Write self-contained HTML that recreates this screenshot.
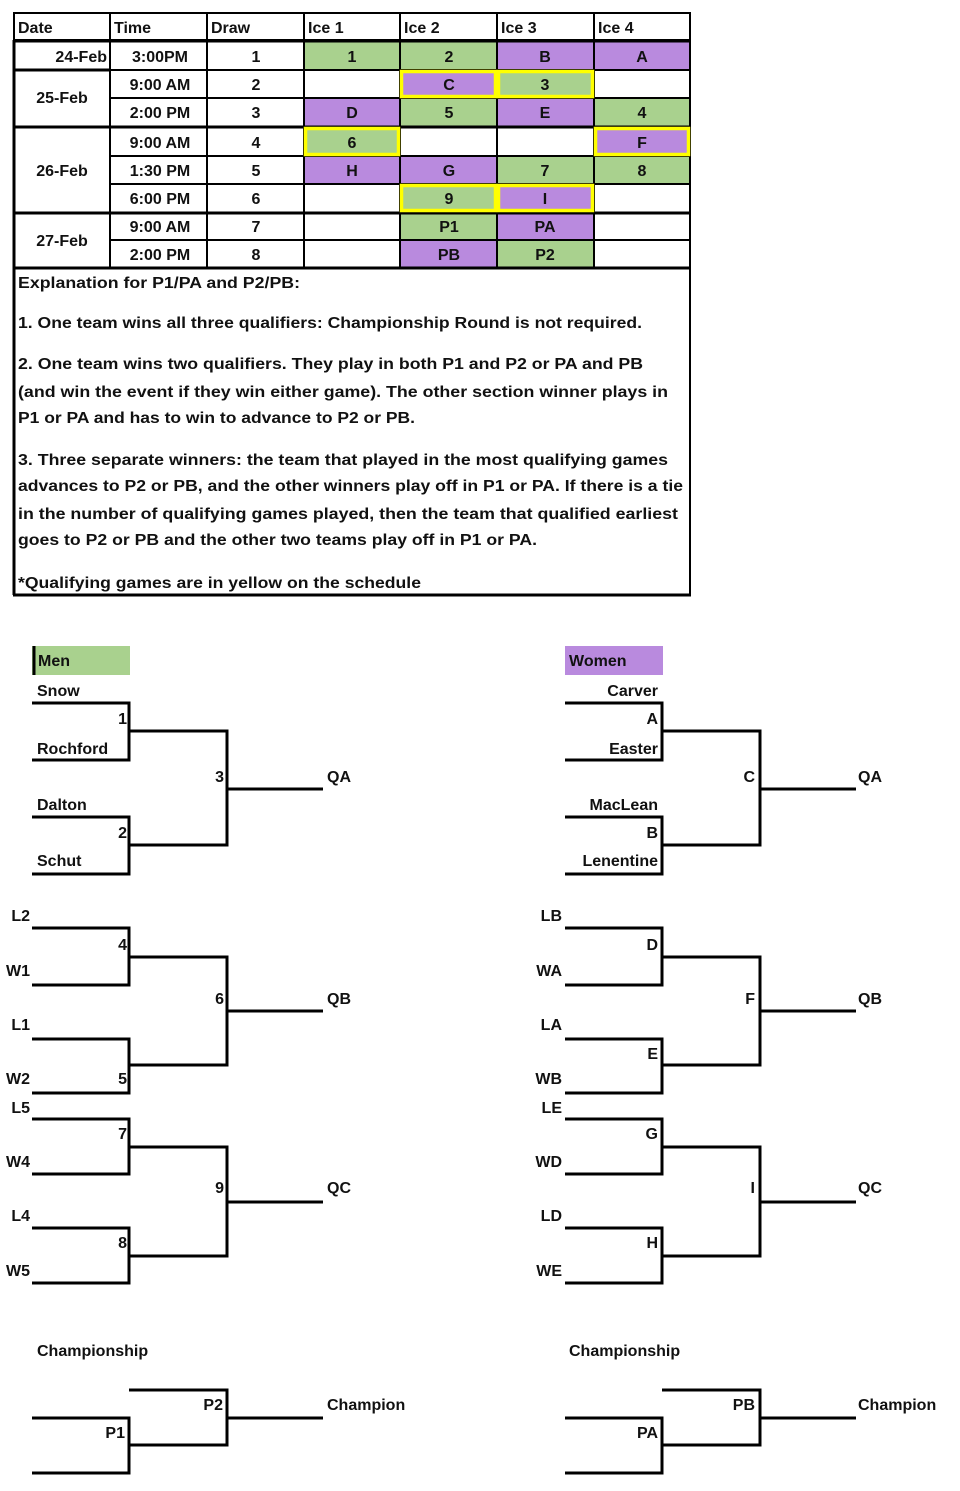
<!DOCTYPE html>
<html><head><meta charset="utf-8"><style>
html,body{margin:0;padding:0;background:#fff;}
svg{display:block;}
text{font-family:"Liberation Sans",sans-serif;font-weight:bold;fill:#111;font-size:16px;}
.n{font-weight:normal;}
</style></head><body>
<svg width="960" height="1491" viewBox="0 0 960 1491" xmlns="http://www.w3.org/2000/svg">
<g>
<rect x="304" y="42" width="96" height="28" fill="#a9d18e"/>
<rect x="400" y="42" width="97" height="28" fill="#a9d18e"/>
<rect x="497" y="42" width="97" height="28" fill="#b98ade"/>
<rect x="594" y="42" width="96" height="28" fill="#b98ade"/>
<rect x="400" y="70" width="97" height="28" fill="#b98ade"/>
<rect x="497" y="70" width="97" height="28" fill="#a9d18e"/>
<rect x="304" y="98" width="96" height="28" fill="#b98ade"/>
<rect x="400" y="98" width="97" height="28" fill="#a9d18e"/>
<rect x="497" y="98" width="97" height="28" fill="#b98ade"/>
<rect x="594" y="98" width="96" height="28" fill="#a9d18e"/>
<rect x="304" y="128" width="96" height="28" fill="#a9d18e"/>
<rect x="594" y="128" width="96" height="28" fill="#b98ade"/>
<rect x="304" y="156" width="96" height="28" fill="#b98ade"/>
<rect x="400" y="156" width="97" height="28" fill="#b98ade"/>
<rect x="497" y="156" width="97" height="28" fill="#a9d18e"/>
<rect x="594" y="156" width="96" height="28" fill="#a9d18e"/>
<rect x="400" y="184" width="97" height="28" fill="#a9d18e"/>
<rect x="497" y="184" width="97" height="28" fill="#b98ade"/>
<rect x="400" y="213" width="97" height="27" fill="#a9d18e"/>
<rect x="497" y="213" width="97" height="27" fill="#b98ade"/>
<rect x="400" y="240" width="97" height="28" fill="#b98ade"/>
<rect x="497" y="240" width="97" height="28" fill="#a9d18e"/>
</g>
<g stroke="#000" fill="none">
<rect x="14" y="13" width="676" height="27" stroke-width="2"/>
<line x1="13" y1="41" x2="691" y2="41" stroke-width="3"/>
<line x1="110" y1="70" x2="691" y2="70" stroke-width="2"/>
<line x1="13" y1="70" x2="110" y2="70" stroke-width="3"/>
<line x1="110" y1="98" x2="691" y2="98" stroke-width="2"/>
<line x1="13" y1="127" x2="691" y2="127" stroke-width="3"/>
<line x1="110" y1="156" x2="691" y2="156" stroke-width="2"/>
<line x1="110" y1="184" x2="691" y2="184" stroke-width="2"/>
<line x1="13" y1="213" x2="691" y2="213" stroke-width="3"/>
<line x1="110" y1="240" x2="691" y2="240" stroke-width="2"/>
<line x1="13" y1="268" x2="691" y2="268" stroke-width="3"/>
<line x1="110" y1="13" x2="110" y2="268" stroke-width="2"/>
<line x1="207" y1="13" x2="207" y2="268" stroke-width="2"/>
<line x1="304" y1="13" x2="304" y2="268" stroke-width="2"/>
<line x1="400" y1="13" x2="400" y2="268" stroke-width="2"/>
<line x1="497" y1="13" x2="497" y2="268" stroke-width="2"/>
<line x1="594" y1="13" x2="594" y2="268" stroke-width="2"/>
<line x1="14" y1="40" x2="14" y2="595" stroke-width="3"/>
<line x1="690" y1="13" x2="690" y2="595" stroke-width="2"/>
<line x1="13" y1="595" x2="691" y2="595" stroke-width="3"/>
</g>
<g stroke="#ffff00" stroke-width="3.5" fill="none">
<rect x="401.5" y="71.5" width="94" height="25"/>
<rect x="498.5" y="71.5" width="94" height="25"/>
<rect x="305.5" y="128.5" width="93" height="26"/>
<rect x="595.5" y="128.5" width="93" height="26"/>
<rect x="401.5" y="185.5" width="94" height="25"/>
<rect x="498.5" y="185.5" width="94" height="25"/>
</g>
<g class="n">
<text x="18" y="33">Date</text><text x="114" y="33">Time</text><text x="211" y="33">Draw</text>
<text x="308" y="33">Ice 1</text><text x="404" y="33">Ice 2</text><text x="501" y="33">Ice 3</text><text x="598" y="33">Ice 4</text>
</g>
<g>
<text x="107" y="62" text-anchor="end">24-Feb</text>
<text x="62" y="103" text-anchor="middle">25-Feb</text>
<text x="62" y="176" text-anchor="middle">26-Feb</text>
<text x="62" y="246" text-anchor="middle">27-Feb</text>
</g>
<g text-anchor="middle">
<text x="160" y="62">3:00PM</text><text x="160" y="90">9:00 AM</text><text x="160" y="118">2:00 PM</text>
<text x="160" y="148">9:00 AM</text><text x="160" y="176">1:30 PM</text><text x="160" y="204">6:00 PM</text>
<text x="160" y="232">9:00 AM</text><text x="160" y="260">2:00 PM</text>
<text x="256" y="62">1</text><text x="256" y="90">2</text><text x="256" y="118">3</text><text x="256" y="148">4</text>
<text x="256" y="176">5</text><text x="256" y="204">6</text><text x="256" y="232">7</text><text x="256" y="260">8</text>
<text x="352" y="62">1</text><text x="449" y="62">2</text><text x="545" y="62">B</text><text x="642" y="62">A</text>
<text x="449" y="90">C</text><text x="545" y="90">3</text>
<text x="352" y="118">D</text><text x="449" y="118">5</text><text x="545" y="118">E</text><text x="642" y="118">4</text>
<text x="352" y="148">6</text><text x="642" y="148">F</text>
<text x="352" y="176">H</text><text x="449" y="176">G</text><text x="545" y="176">7</text><text x="642" y="176">8</text>
<text x="449" y="204">9</text><text x="545" y="204">I</text>
<text x="449" y="232">P1</text><text x="545" y="232">PA</text>
<text x="449" y="260">PB</text><text x="545" y="260">P2</text>
</g>
<g font-size="16">
<text x="18" y="288" textLength="282" lengthAdjust="spacingAndGlyphs">Explanation for P1/PA and P2/PB:</text>
<text x="18" y="328" textLength="624" lengthAdjust="spacingAndGlyphs">1. One team wins all three qualifiers: Championship Round is not required.</text>
<text x="18" y="369" textLength="625" lengthAdjust="spacingAndGlyphs">2. One team wins two qualifiers. They play in both  P1 and P2 or PA and PB</text>
<text x="18" y="397" textLength="650" lengthAdjust="spacingAndGlyphs">(and win the event if they win either game). The other section winner plays in</text>
<text x="18" y="423" textLength="397" lengthAdjust="spacingAndGlyphs">P1 or PA and has to win to advance to P2 or PB.</text>
<text x="18" y="465" textLength="650" lengthAdjust="spacingAndGlyphs">3. Three separate winners: the team that played in the most qualifying games</text>
<text x="18" y="491" textLength="665" lengthAdjust="spacingAndGlyphs">advances to P2 or PB, and the other winners play off in P1 or PA. If there is a tie</text>
<text x="18" y="519" textLength="660" lengthAdjust="spacingAndGlyphs">in the number of qualifying games played, then the team that qualified earliest</text>
<text x="18" y="545" textLength="519" lengthAdjust="spacingAndGlyphs">goes to P2 or PB and the other two teams play off in P1 or PA.</text>
<text x="18" y="588" textLength="403" lengthAdjust="spacingAndGlyphs">*Qualifying games are in yellow on the schedule</text>
</g>
<rect x="32" y="646" width="98" height="29" fill="#a9d18e"/>
<line x1="34" y1="646" x2="34" y2="675" stroke="#000" stroke-width="3"/>
<text x="38" y="666">Men</text>
<rect x="565" y="646" width="98" height="29" fill="#b98ade"/>
<text x="569" y="666">Women</text>
<g stroke="#000" stroke-width="3" fill="none">
<path d="M32 703H129V760H32M32 817H129V874H32M129 731H227V845H129M227 789H323"/>
<path d="M32 928H129V985H32M32 1039H129V1093H32M129 957H227V1065H129M227 1011H323"/>
<path d="M32 1119H129V1174H32M32 1228H129V1283H32M129 1147H227V1256H129M227 1202H323"/>
<path d="M129 1390H227V1445H129M32 1418H129V1473H32M227 1418H323"/>
<g transform="translate(533,0)">
<path d="M32 703H129V760H32M32 817H129V874H32M129 731H227V845H129M227 789H323"/>
<path d="M32 928H129V985H32M32 1039H129V1093H32M129 957H227V1065H129M227 1011H323"/>
<path d="M32 1119H129V1174H32M32 1228H129V1283H32M129 1147H227V1256H129M227 1202H323"/>
<path d="M129 1390H227V1445H129M32 1418H129V1473H32M227 1418H323"/>
</g>
</g>
<g>
<text x="37" y="696">Snow</text><text x="37" y="754">Rochford</text><text x="37" y="810">Dalton</text><text x="37" y="866">Schut</text>
<text x="127" y="724" text-anchor="end">1</text><text x="127" y="838" text-anchor="end">2</text><text x="224" y="782" text-anchor="end">3</text>
<text x="327" y="782">QA</text>
<g text-anchor="end">
<text x="30" y="921">L2</text><text x="30" y="976">W1</text><text x="30" y="1030">L1</text><text x="30" y="1084">W2</text>
<text x="30" y="1113">L5</text><text x="30" y="1167">W4</text><text x="30" y="1221">L4</text><text x="30" y="1276">W5</text>
<text x="127" y="950">4</text><text x="127" y="1084">5</text><text x="224" y="1004">6</text>
<text x="127" y="1139">7</text><text x="127" y="1248">8</text><text x="224" y="1193">9</text>
<text x="125" y="1438">P1</text><text x="223" y="1410">P2</text>
</g>
<text x="327" y="1004">QB</text><text x="327" y="1193">QC</text>
<text x="37" y="1356">Championship</text><text x="327" y="1410">Champion</text>
</g>
<g text-anchor="end">
<text x="658" y="696">Carver</text><text x="658" y="754">Easter</text><text x="658" y="810">MacLean</text><text x="658" y="866">Lenentine</text>
<text x="658" y="724">A</text><text x="658" y="838">B</text><text x="755" y="782">C</text>
<text x="562" y="921">LB</text><text x="562" y="976">WA</text><text x="562" y="1030">LA</text><text x="562" y="1084">WB</text>
<text x="562" y="1113">LE</text><text x="562" y="1167">WD</text><text x="562" y="1221">LD</text><text x="562" y="1276">WE</text>
<text x="658" y="950">D</text><text x="658" y="1059">E</text><text x="755" y="1004">F</text>
<text x="658" y="1139">G</text><text x="658" y="1248">H</text><text x="755" y="1193">I</text>
<text x="658" y="1438">PA</text><text x="755" y="1410">PB</text>
</g>
<g>
<text x="858" y="782">QA</text><text x="858" y="1004">QB</text><text x="858" y="1193">QC</text>
<text x="569" y="1356">Championship</text><text x="858" y="1410">Champion</text>
</g>
</svg>
</body></html>
